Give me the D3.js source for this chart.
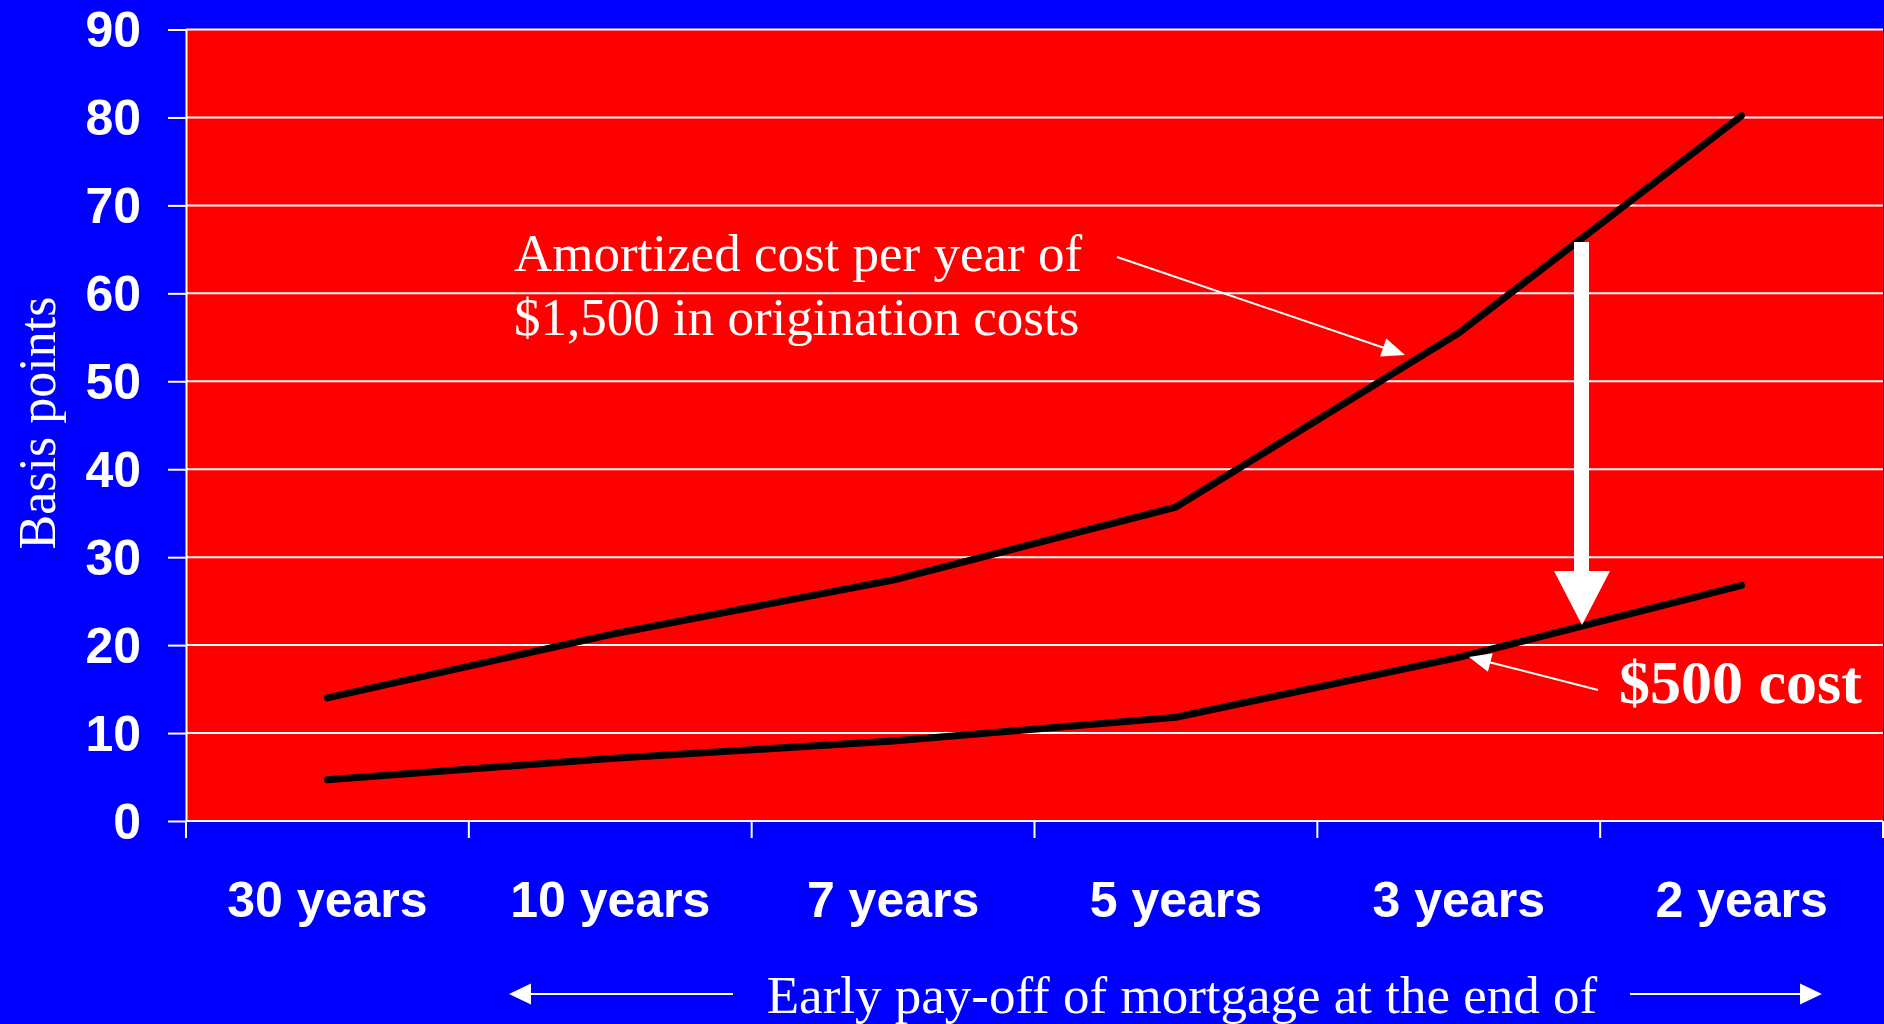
<!DOCTYPE html>
<html>
<head>
<meta charset="utf-8">
<script src="https://cdn.jsdelivr.net/npm/d3@7"></script>
<style>
  html, body { margin: 0; padding: 0; background: #0000ff; }
  svg { display: block; }
</style>
</head>
<body>
<svg id="chart" width="1884" height="1024"></svg>
<script>
// ---- Data ----
const categories = ["30 years", "10 years", "7 years", "5 years", "3 years", "2 years"];
const cost1500 = [14.0, 21.2, 27.4, 35.7, 55.5, 80.2];
const cost500 = [4.7, 7.1, 9.1, 11.8, 18.6, 26.8];
const yTicks = [0, 10, 20, 30, 40, 50, 60, 70, 80, 90];
const yTitle = "Basis points";
const xTitle = "Early pay-off of mortgage at the end of";
const note1500 = ["Amortized cost per year of", "$1,500 in origination costs"];
const note500 = "$500 cost";

// ---- Layout ----
const W = 1884, H = 1024;
const plot = { left: 186, right: 1883, top: 29.5, bottom: 821 };
const BLUE = "#0000ff", RED = "#ff0000", WHITE = "#ffffff";
const SANS = "'Liberation Sans', Arial, sans-serif";
const SERIF = "'Liberation Serif', 'Times New Roman', serif";

const svg = d3.select("#chart");
svg.append("rect").attr("width", W).attr("height", H).attr("fill", BLUE);

const x = d3.scaleBand().domain(categories).range([plot.left, plot.right]).paddingInner(0).paddingOuter(0);
const y = d3.scaleLinear().domain([0, 90]).range([plot.bottom, plot.top]);

// plot background
svg.append("rect")
  .attr("x", plot.left).attr("y", plot.top)
  .attr("width", plot.right - plot.left).attr("height", plot.bottom - plot.top)
  .attr("fill", RED);

// gridlines
svg.append("g").selectAll("line").data(yTicks).join("line")
  .attr("x1", plot.left).attr("x2", plot.right)
  .attr("y1", d => y(d)).attr("y2", d => y(d))
  .attr("stroke", WHITE).attr("stroke-width", 2);

// y axis
const yAxis = svg.append("g")
  .attr("transform", `translate(${plot.left},0)`)
  .call(d3.axisLeft(y).tickValues(yTicks).tickSize(18).tickPadding(27).tickSizeOuter(0));
yAxis.select(".domain").attr("stroke", WHITE).attr("stroke-width", 2);
yAxis.selectAll(".tick line").attr("stroke", WHITE).attr("stroke-width", 2);
yAxis.selectAll(".tick text")
  .attr("fill", WHITE).attr("font-family", SANS).attr("font-weight", "bold")
  .attr("font-size", 50).attr("dy", "0.34em");

// x axis (baseline + boundary ticks + centered labels)
svg.append("line")
  .attr("x1", plot.left).attr("x2", plot.right)
  .attr("y1", plot.bottom).attr("y2", plot.bottom)
  .attr("stroke", WHITE).attr("stroke-width", 2);
const boundaries = categories.map(c => x(c)).concat([x(categories[categories.length - 1]) + x.bandwidth()]);
svg.append("g").selectAll("line").data(boundaries).join("line")
  .attr("x1", d => d).attr("x2", d => d)
  .attr("y1", plot.bottom).attr("y2", plot.bottom + 17)
  .attr("stroke", WHITE).attr("stroke-width", 2);
svg.append("g").selectAll("text").data(categories).join("text")
  .attr("x", d => x(d) + x.bandwidth() / 2)
  .attr("y", 917)
  .attr("text-anchor", "middle")
  .attr("fill", WHITE).attr("font-family", SANS).attr("font-weight", "bold")
  .attr("font-size", 50)
  .text(d => d);

// y title
svg.append("text")
  .attr("transform", "translate(55,423) rotate(-90)")
  .attr("text-anchor", "middle")
  .attr("fill", WHITE).attr("font-family", SERIF).attr("font-size", 52)
  .text(yTitle);

// x title
svg.append("text")
  .attr("x", 1182).attr("y", 1013)
  .attr("text-anchor", "middle")
  .attr("fill", WHITE).attr("font-family", SERIF).attr("font-size", 53)
  .text(xTitle);

// ---- arrows helper ----
function arrow(x1, y1, x2, y2, headLen, headW, sw) {
  const dx = x2 - x1, dy = y2 - y1, L = Math.hypot(dx, dy);
  const ux = dx / L, uy = dy / L, px = -uy, py = ux;
  const bx = x2 - ux * headLen, by = y2 - uy * headLen;
  svg.append("line")
    .attr("x1", x1).attr("y1", y1).attr("x2", bx + ux * 2).attr("y2", by + uy * 2)
    .attr("stroke", WHITE).attr("stroke-width", sw);
  svg.append("polygon")
    .attr("points", [[x2, y2], [bx + px * headW / 2, by + py * headW / 2], [bx - px * headW / 2, by - py * headW / 2]].map(p => p.join(",")).join(" "))
    .attr("fill", WHITE);
}

// bottom direction arrows
arrow(733, 994, 509, 994, 22, 21, 2);
arrow(1630, 994, 1822, 994, 22, 21, 2);

// data lines
const line = d3.line()
  .x((d, i) => x(categories[i]) + x.bandwidth() / 2)
  .y(d => y(d));
[cost1500, cost500].forEach(series => {
  svg.append("path")
    .datum(series)
    .attr("d", line)
    .attr("fill", "none")
    .attr("stroke", "#000000")
    .attr("stroke-width", 7)
    .attr("stroke-linecap", "round")
    .attr("stroke-linejoin", "round");
});

// annotation: $1,500
const n1 = svg.append("text")
  .attr("fill", WHITE).attr("font-family", SERIF).attr("font-size", 53);
n1.selectAll("tspan").data(note1500).join("tspan")
  .attr("x", 514).attr("y", (d, i) => 271 + i * 64)
  .text(d => d);
arrow(1117, 257, 1405, 355, 23, 19, 2);

// annotation: $500
svg.append("text")
  .attr("x", 1619).attr("y", 703)
  .attr("fill", WHITE).attr("font-family", SERIF).attr("font-weight", "bold").attr("font-size", 62)
  .text(note500);
arrow(1598, 690, 1469, 657, 22, 19, 2);

// big down arrow between the two series
svg.append("rect")
  .attr("x", 1574).attr("y", 242).attr("width", 15).attr("height", 332)
  .attr("fill", WHITE);
svg.append("polygon")
  .attr("points", "1554,571 1610,571 1582,625")
  .attr("fill", WHITE);
</script>
</body>
</html>
